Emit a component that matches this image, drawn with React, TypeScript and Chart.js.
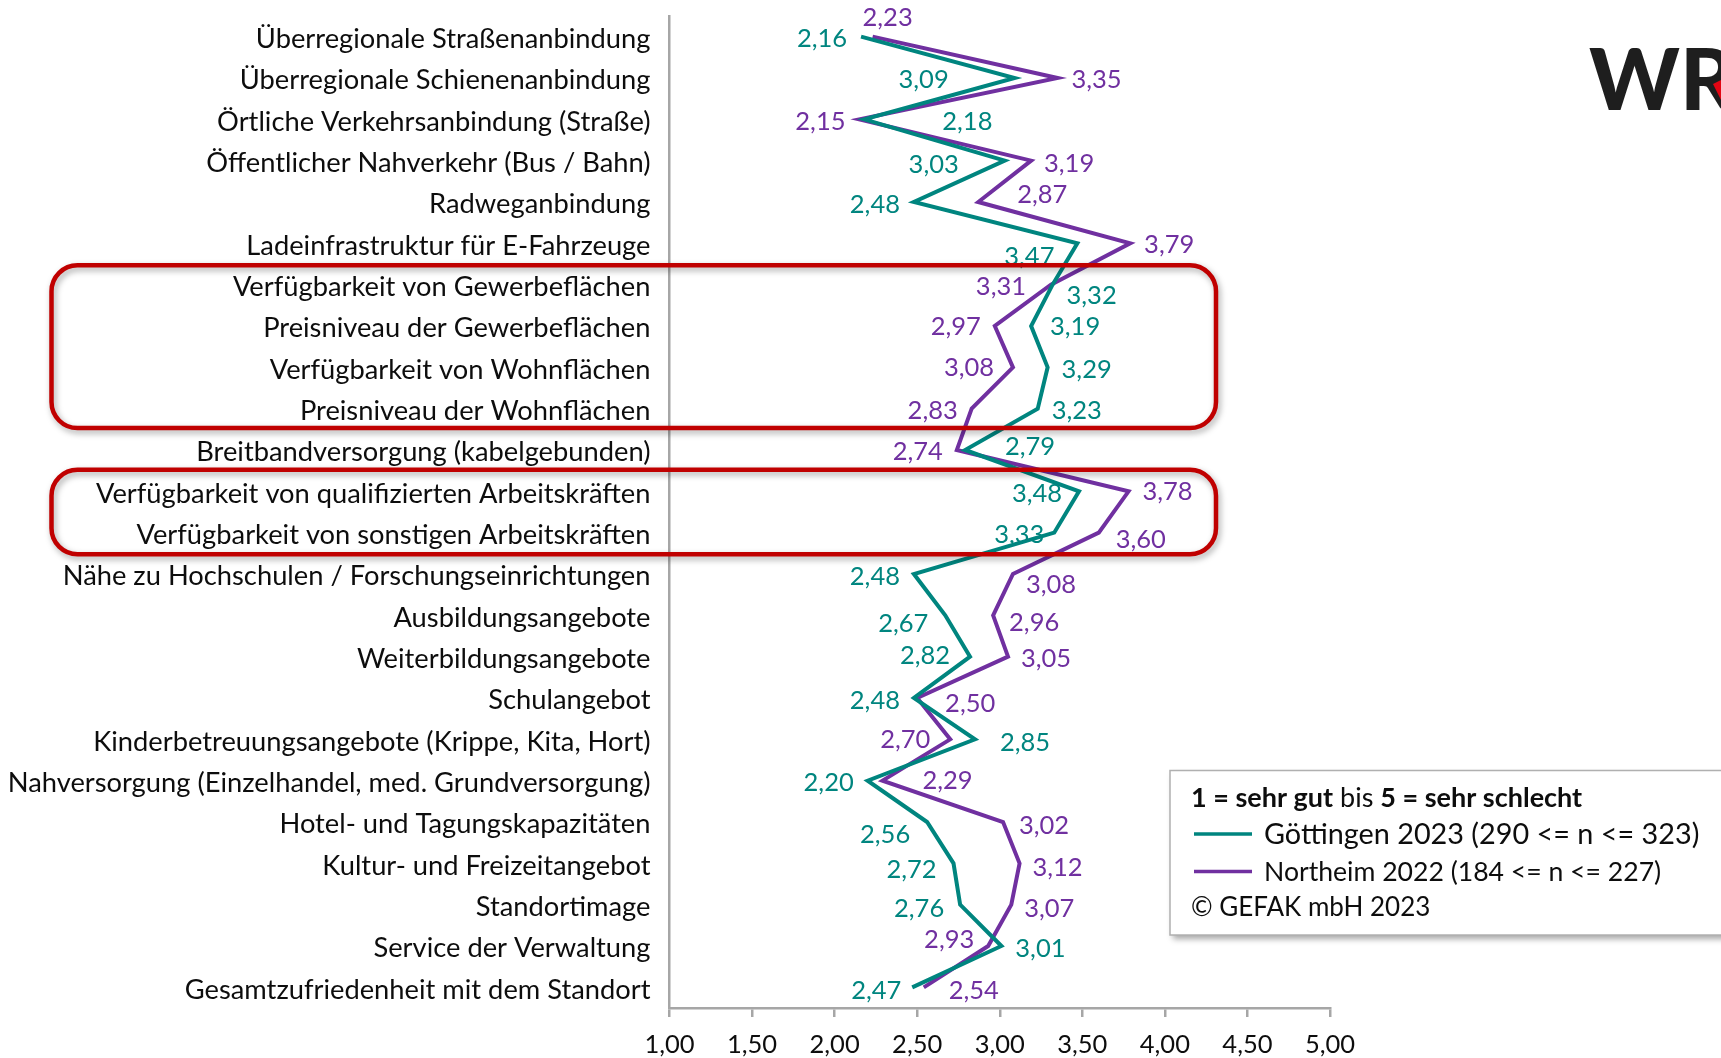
import React, { useEffect, useRef } from "react";
import { Chart, registerables } from "chart.js";

Chart.register(...registerables);

// ---------- data ----------
const categories = [
  "Überregionale Straßenanbindung",
  "Überregionale Schienenanbindung",
  "Örtliche Verkehrsanbindung (Straße)",
  "Öffentlicher Nahverkehr (Bus / Bahn)",
  "Radweganbindung",
  "Ladeinfrastruktur für E-Fahrzeuge",
  "Verfügbarkeit von Gewerbeflächen",
  "Preisniveau der Gewerbeflächen",
  "Verfügbarkeit von Wohnflächen",
  "Preisniveau der Wohnflächen",
  "Breitbandversorgung (kabelgebunden)",
  "Verfügbarkeit von qualifizierten Arbeitskräften",
  "Verfügbarkeit von sonstigen Arbeitskräften",
  "Nähe zu Hochschulen / Forschungseinrichtungen",
  "Ausbildungsangebote",
  "Weiterbildungsangebote",
  "Schulangebot",
  "Kinderbetreuungsangebote (Krippe, Kita, Hort)",
  "Nahversorgung (Einzelhandel, med. Grundversorgung)",
  "Hotel- und Tagungskapazitäten",
  "Kultur- und Freizeitangebot",
  "Standortimage",
  "Service der Verwaltung",
  "Gesamtzufriedenheit mit dem Standort",
];

const goettingen2023 = [
  2.16, 3.09, 2.18, 3.03, 2.48, 3.47, 3.32, 3.19, 3.29, 3.23, 2.79, 3.48,
  3.33, 2.48, 2.67, 2.82, 2.48, 2.85, 2.2, 2.56, 2.72, 2.76, 3.01, 2.47,
];

const northeim2022 = [
  2.23, 3.35, 2.15, 3.19, 2.87, 3.79, 3.31, 2.97, 3.08, 2.83, 2.74, 3.78,
  3.6, 3.08, 2.96, 3.05, 2.5, 2.7, 2.29, 3.02, 3.12, 3.07, 2.93, 2.54,
];

const seriesNames = [
  "Göttingen 2023 (290 <= n <= 323)",
  "Northeim 2022 (184 <= n <= 227)",
];

const xMin = 1;
const xMax = 5;
const xStep = 0.5;

const legendTitleParts: [string, boolean][] = [
  ["1 = sehr gut", true],
  [" bis ", false],
  ["5 = sehr schlecht", true],
];
const copyrightText = "© GEFAK mbH 2023";
const logoText = "WR";

// highlighted category groups (first index, last index)
const highlightGroups: [number, number][] = [
  [6, 9],
  [11, 12],
];

// ---------- layout / style (not data) ----------
const FONT = "Lato, 'Open Sans', sans-serif";
const COLORS = ["#00857F", "#7030A0"];
const AXIS_COLOR = "#A6A6A6";
const VALUE_FONT = 25.5;
const CAT_FONT = 27.3;
const LEGEND_SERIES_FONT = [28.8, 26.6];

// value-label offsets (label centre relative to point), per series
const labelOffsetsG: [number, number][] = [
  [-39, 1], [-91, 1], [103, 1], [-71, 3], [-39, 2], [-48, 12],
  [39, 10], [44, 0], [39, 1], [39, 1], [65, -4], [-42, 1],
  [-35, 1], [-39, 2], [-42, 7], [-45, -2], [-39, 2], [50, 2],
  [-39, 1], [-42, 12], [-42, 5], [-41, 3], [39, 2], [-36, 2],
];
const labelOffsetsN: [number, number][] = [
  [15, -20], [39, 1], [-39, 1], [38, 2], [64, -8], [39, 0],
  [-50, 1], [-39, 0], [-44, -1], [-39, 1], [-39, 1], [39, -1],
  [42, 6], [38, 10], [41, 6], [38, 1], [53, 5], [-45, -1],
  [65, -1], [41, 3], [38, 3], [38, 3], [-39, -7], [50, 2],
];
const labelOffsets = [labelOffsetsG, labelOffsetsN];

const fmt = (v: number) => v.toFixed(2).replace(".", ",");

function roundRect(ctx: CanvasRenderingContext2D, x: number, y: number, w: number, h: number, r: number) {
  ctx.beginPath();
  ctx.moveTo(x + r, y);
  ctx.lineTo(x + w - r, y);
  ctx.arcTo(x + w, y, x + w, y + r, r);
  ctx.lineTo(x + w, y + h - r);
  ctx.arcTo(x + w, y + h, x + w - r, y + h, r);
  ctx.lineTo(x + r, y + h);
  ctx.arcTo(x, y + h, x, y + h - r, r);
  ctx.lineTo(x, y + r);
  ctx.arcTo(x, y, x + r, y, r);
  ctx.closePath();
}

const valueLabelPlugin = {
  id: "valueLabels",
  afterDatasetsDraw(chart: any) {
    const ctx: CanvasRenderingContext2D = chart.ctx;
    ctx.save();
    ctx.font = `${VALUE_FONT}px ${FONT}`;
    ctx.textAlign = "center";
    ctx.textBaseline = "alphabetic";
    chart.data.datasets.forEach((ds: any, di: number) => {
      const meta = chart.getDatasetMeta(di);
      ctx.fillStyle = ds.borderColor;
      meta.data.forEach((pt: any, i: number) => {
        const off = labelOffsets[di][i];
        ctx.fillText(fmt(ds.data[i]), pt.x + off[0], pt.y + off[1] + VALUE_FONT * 0.36);
      });
    });
    ctx.restore();
  },
};

const overlayPlugin = {
  id: "overlay",
  afterDraw(chart: any) {
    const ctx: CanvasRenderingContext2D = chart.ctx;
    const yScale = chart.scales.y;
    const band = (yScale.bottom - yScale.top) / categories.length;
    const pads = [0.47, 0.52];

    // red highlight boxes
    highlightGroups.forEach(([a, b], gi) => {
      const top = yScale.getPixelForValue(a) - band * pads[gi];
      const bottom = yScale.getPixelForValue(b) + band * pads[gi];
      ctx.save();
      ctx.shadowColor = "rgba(0,0,0,0.35)";
      ctx.shadowBlur = 6;
      ctx.shadowOffsetX = 2;
      ctx.shadowOffsetY = 3;
      ctx.strokeStyle = "#C00000";
      ctx.lineWidth = 4.5;
      roundRect(ctx, 51.5, top, 1216 - 51.5, bottom - top, 26);
      ctx.stroke();
      ctx.restore();
    });

    // legend box
    const lx = 1170, ly = 770.5, lw = 600, lh = 164.5;
    ctx.save();
    ctx.shadowColor = "rgba(0,0,0,0.35)";
    ctx.shadowBlur = 6;
    ctx.shadowOffsetX = 3;
    ctx.shadowOffsetY = 4;
    ctx.fillStyle = "#FFFFFF";
    ctx.fillRect(lx, ly, lw, lh);
    ctx.restore();
    ctx.save();
    ctx.strokeStyle = "#B0B0B0";
    ctx.lineWidth = 1.5;
    ctx.strokeRect(lx, ly, lw, lh);

    ctx.textBaseline = "alphabetic";
    ctx.textAlign = "left";
    ctx.fillStyle = "#0D0D0D";
    const tf = 27;
    let tx = 1191;
    legendTitleParts.forEach(([t, bold]) => {
      ctx.font = `${bold ? "bold " : ""}${tf}px ${FONT}`;
      ctx.fillText(t, tx, 797 + tf * 0.36);
      tx += ctx.measureText(t).width;
    });
    const rowsY = [834, 871.5];
    chart.data.datasets.forEach((ds: any, di: number) => {
      const sf = LEGEND_SERIES_FONT[di];
      ctx.strokeStyle = ds.borderColor;
      ctx.lineWidth = 3.5;
      ctx.beginPath();
      ctx.moveTo(1194, rowsY[di]);
      ctx.lineTo(1252, rowsY[di]);
      ctx.stroke();
      ctx.font = `${sf}px ${FONT}`;
      ctx.fillStyle = "#0D0D0D";
      ctx.fillText(ds.label, 1264, rowsY[di] + sf * 0.36);
    });
    const cf = 26;
    ctx.font = `${cf}px ${FONT}`;
    ctx.fillText(copyrightText, 1191, 906.5 + cf * 0.36);
    ctx.restore();

    // logo
    ctx.save();
    ctx.font = `900 86px ${FONT}`;
    ctx.fillStyle = "#1E1E1E";
    ctx.textBaseline = "alphabetic";
    ctx.fillText(logoText, 1589, 110);
    ctx.fillStyle = "#E30613";
    ctx.beginPath();
    ctx.moveTo(1713, 84);
    ctx.lineTo(1721, 80);
    ctx.lineTo(1721, 100);
    ctx.closePath();
    ctx.fill();
    ctx.restore();
  },
};

export default function App() {
  const ref = useRef<HTMLCanvasElement | null>(null);

  useEffect(() => {
    if (!ref.current) return;
    const chart = new Chart(ref.current, {
      type: "line",
      data: {
        labels: categories,
        datasets: [
          {
            label: seriesNames[0],
            data: goettingen2023,
            borderColor: COLORS[0],
            backgroundColor: COLORS[0],
            borderWidth: 4,
            pointRadius: 0,
            tension: 0,
            borderJoinStyle: "miter",
          },
          {
            label: seriesNames[1],
            data: northeim2022,
            borderColor: COLORS[1],
            backgroundColor: COLORS[1],
            borderWidth: 4,
            pointRadius: 0,
            tension: 0,
            borderJoinStyle: "miter",
          },
        ],
      },
      options: {
        indexAxis: "y",
        responsive: false,
        animation: false,
        devicePixelRatio: 1,
        layout: { padding: { top: 16, right: 391, bottom: 0, left: 0 } },
        plugins: {
          legend: { display: false },
          tooltip: { enabled: false },
        },
        scales: {
          x: {
            type: "linear",
            min: xMin,
            max: xMax,
            ticks: {
              stepSize: xStep,
              callback: (v: any) => fmt(Number(v)),
              color: "#0D0D0D",
              font: { family: FONT, size: VALUE_FONT },
              padding: 12,
              maxRotation: 0,
            },
            grid: {
              drawOnChartArea: false,
              drawTicks: true,
              tickLength: 9,
              color: AXIS_COLOR,
              lineWidth: 2.5,
            },
            border: { display: true, color: AXIS_COLOR, width: 2.5 },
            afterFit: (s: any) => {
              s.height = 50;
            },
          },
          y: {
            type: "category",
            offset: true,
            ticks: {
              autoSkip: false,
              color: "#0D0D0D",
              font: { family: FONT, size: CAT_FONT },
              padding: 19,
              labelOffset: 2.5,
            },
            grid: { drawOnChartArea: false, drawTicks: false },
            border: { display: true, color: AXIS_COLOR, width: 2.5 },
            afterFit: (s: any) => {
              s.width = 669.5;
              s.paddingTop = 0;
              s.paddingBottom = 0;
            },
          },
        },
      } as any,
      plugins: [valueLabelPlugin, overlayPlugin],
    });
    return () => chart.destroy();
  }, []);

  return (
    <div style={{ position: "absolute", left: 0, top: 0, width: 1721, height: 1058, background: "#FFFFFF" }}>
      <canvas ref={ref} width={1721} height={1058} style={{ display: "block" }} />
    </div>
  );
}
